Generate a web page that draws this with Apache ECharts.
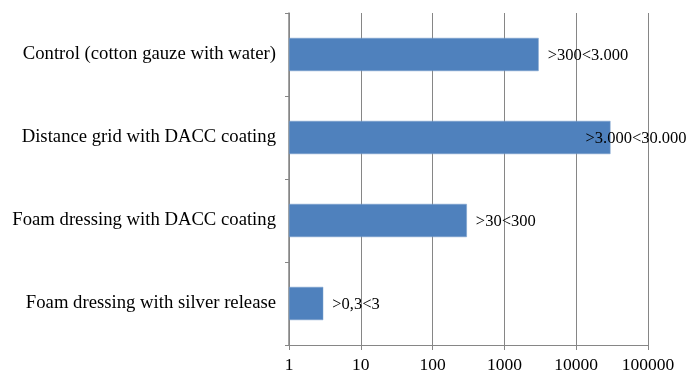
<!DOCTYPE html>
<html>
<head>
<meta charset="utf-8">
<script src="https://cdn.jsdelivr.net/npm/echarts@6/dist/echarts.min.js"></script>
<style>html,body{margin:0;padding:0;background:#fff;}#chart{width:699px;height:371px;}</style>
</head>
<body>
<div id="chart"></div>
<script>
const categories = [
  "Control (cotton gauze with water)",
  "Distance grid with DACC coating",
  "Foam dressing with DACC coating",
  "Foam dressing with silver release"
];
const values = [3000, 30000, 300, 3];
const valueLabels = [">300<3.000", ">3.000<30.000", ">30<300", ">0,3<3"];
const labelOffsets = [[0, 1], [-34, 1], [0, 1], [0, 1]];

const FONT = "'Liberation Serif', 'Times New Roman', serif";
const chart = echarts.init(document.getElementById('chart'));
chart.setOption({
  animation: false,
  grid: { left: 289, right: 51, top: 13, bottom: 26, containLabel: false, outerBoundsMode: 'none' },
  xAxis: {
    type: 'log', logBase: 10, min: 1, max: 100000,
    axisLine: { show: true, lineStyle: { color: '#868686', width: 1 } },
    axisTick: { show: true, length: 5, lineStyle: { color: '#868686' } },
    minorTick: { show: false },
    splitLine: { show: true, lineStyle: { color: '#868686', width: 1 } },
    axisLabel: { color: '#000', fontFamily: FONT, fontSize: 17.5, margin: 11, formatter: v => String(v) }
  },
  yAxis: {
    type: 'category', data: categories, inverse: true,
    axisLine: { show: true, lineStyle: { color: '#868686', width: 1.5 } },
    axisTick: { show: true, length: 4, lineStyle: { color: '#868686' } },
    axisLabel: { color: '#000', fontFamily: FONT, fontSize: 18.7, margin: 13 }
  },
  series: [{
    type: 'bar',
    barWidth: '40%',
    data: values.map((v, i) => ({
      value: v,
      label: { offset: labelOffsets[i] }
    })),
    itemStyle: { color: '#4F81BD', borderColor: '#7BA0CD', borderWidth: 0.5 },
    label: {
      show: true, position: 'right', distance: 9,
      color: '#000', fontFamily: FONT, fontSize: 16.5,
      formatter: p => valueLabels[p.dataIndex]
    }
  }]
});
</script>
</body>
</html>
